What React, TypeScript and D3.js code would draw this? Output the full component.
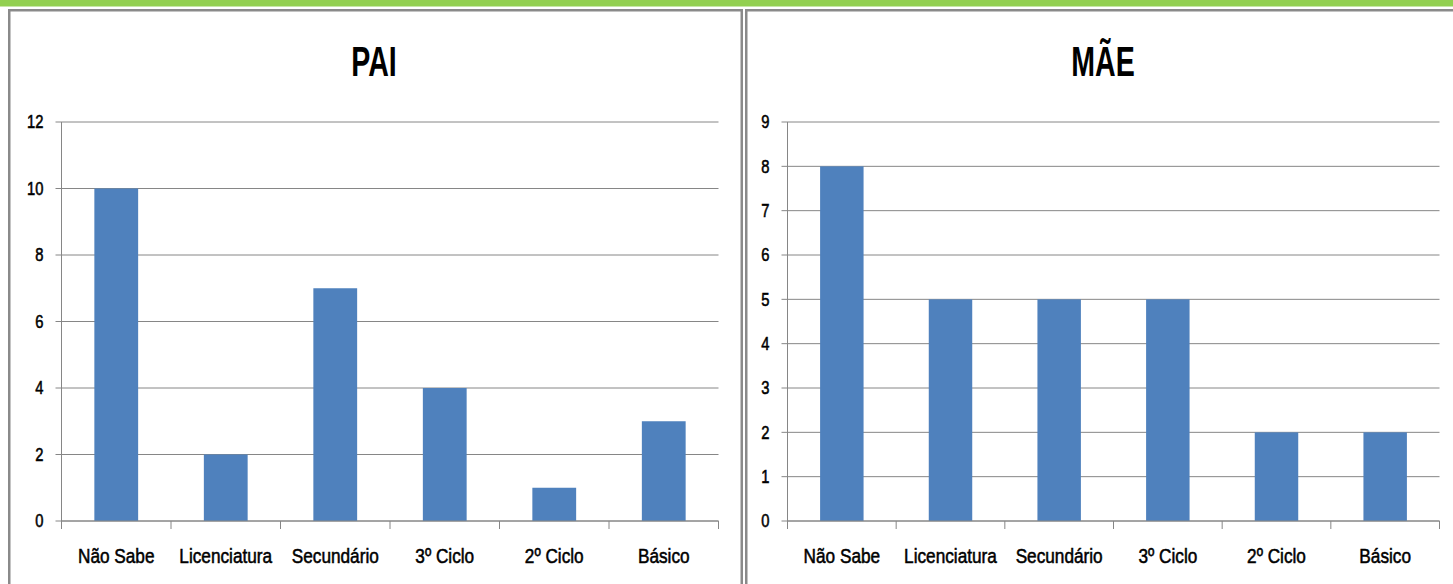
import React from 'react';
import * as d3 from 'd3';

const categories = ['Não Sabe', 'Licenciatura', 'Secundário', '3º Ciclo', '2º Ciclo', 'Básico'];
const paiValues = [10, 2, 7, 4, 1, 3];
const maeValues = [8, 5, 5, 5, 2, 2];
const paiTicks = [0, 2, 4, 6, 8, 10, 12];
const maeTicks = [0, 1, 2, 3, 4, 5, 6, 7, 8, 9];

const FONT = '"Liberation Sans", Arial, sans-serif';
const GRID = '#868686';
const BAR = '#4f81bd';

interface PanelProps {
    title: string;
    values: number[];
    ticks: number[];
    left: number;
    right: number;
    titleX: number;
}

// Calibri-like look: squeeze Liberation Sans horizontally, thicken a little
const Squeezed: React.FC<{ x: number; y: number; sx: number; anchor: string; size: number; bold?: boolean; dy?: string; children: React.ReactNode }> =
    ({ x, y, sx, anchor, size, bold, dy, children }) => (
        <text transform={`translate(${x},${y}) scale(${sx},1)`} textAnchor={anchor} dy={dy}
            fontFamily={FONT} fontWeight={bold ? 'bold' : 'normal'} fontSize={size} fill="#000"
            stroke={bold ? 'none' : '#000'} strokeWidth={0.55}>{children}</text>
    );

const Panel: React.FC<PanelProps> = ({ title, values, ticks, left, right, titleX }) => {
    const top = 122;
    const bottom = 521;

    const x = d3.scaleBand()
        .domain(categories)
        .range([left, right])
        .paddingInner(0)
        .paddingOuter(0);

    const y = d3.scaleLinear()
        .domain([0, d3.max(ticks)!])
        .range([bottom, top]);

    const barW = x.bandwidth() * 0.4;

    return (
        <g>
            <Squeezed x={titleX} y={76} sx={0.68} anchor="middle" size={42} bold>{title}</Squeezed>

            {ticks.map(t => (
                <g key={t}>
                    <line x1={left - 6} x2={right} y1={y(t)} y2={y(t)} stroke={GRID} strokeWidth={1} />
                    <Squeezed x={left - 18} y={y(t)} sx={0.82} anchor="end" size={18} dy="0.36em">{t}</Squeezed>
                </g>
            ))}

            {values.map((v, i) => {
                const c = categories[i];
                const cx = x(c)! + x.bandwidth() / 2;
                return (
                    <rect key={c} x={cx - barW / 2} y={y(v)} width={barW} height={bottom - y(v)} fill={BAR} />
                );
            })}

            <line x1={left} x2={left} y1={top} y2={bottom} stroke={GRID} strokeWidth={1} />
            <line x1={left} x2={right} y1={bottom} y2={bottom} stroke={GRID} strokeWidth={1} />
            {[...categories.map(c => x(c)!), right].map((tx, i) => (
                <line key={i} x1={tx} x2={tx} y1={bottom} y2={bottom + 8} stroke={GRID} strokeWidth={1} />
            ))}

            {categories.map(c => (
                <Squeezed key={c} x={x(c)! + x.bandwidth() / 2} y={563} sx={0.82} anchor="middle" size={21}>{c}</Squeezed>
            ))}
        </g>
    );
};

const App: React.FC = () => {
    const width = 1453;
    const height = 584;
    return (
        <svg width={width} height={height}
            style={{ position: 'absolute', left: 0, top: 0, display: 'block', background: '#fff' }}>
            <rect x={0} y={0} width={width} height={6.5} fill="#92d050" />
            <rect x={9.25} y={10.25} width={732.5} height={600} fill="#fff" stroke="#8a8a8a" strokeWidth={2.5} />
            <rect x={746.25} y={10.25} width={720} height={600} fill="#fff" stroke="#8a8a8a" strokeWidth={2.5} />
            <Panel title="PAI" values={paiValues} ticks={paiTicks} left={61.5} right={718.5} titleX={374} />
            <Panel title="MÃE" values={maeValues} ticks={maeTicks} left={787.5} right={1439.5} titleX={1103} />
        </svg>
    );
};

export default App;
